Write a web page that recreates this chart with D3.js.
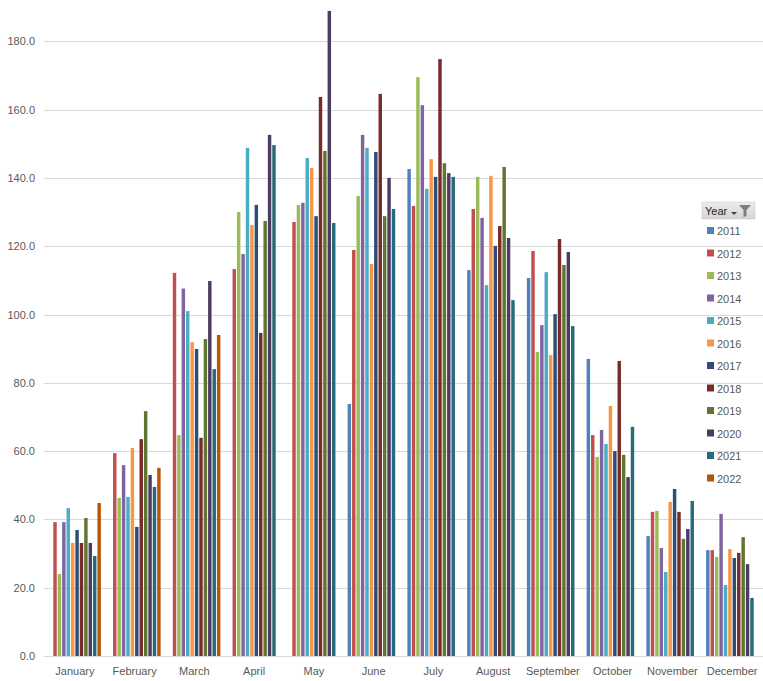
<!DOCTYPE html>
<html>
<head>
<meta charset="utf-8">
<script src="https://cdn.jsdelivr.net/npm/d3@7/dist/d3.min.js"></script>
<style>
  html, body { margin: 0; padding: 0; background: #fff; }
  svg { display: block; }
  text { font-family: "Liberation Sans", Arial, sans-serif; }
</style>
</head>
<body>
<svg id="chart" width="763" height="681"></svg>
<script>
const months = ["January","February","March","April","May","June","July","August","September","October","November","December"];
const years = ["2011","2012","2013","2014","2015","2016","2017","2018","2019","2020","2021","2022"];
const yTicks = [0,20,40,60,80,100,120,140,160,180];
const colors = ["#4F81BD","#C0504D","#9BBB59","#8064A2","#4BACC6","#F79646","#2C4D75","#772C2A","#5F7530","#4D3B62","#276A7C","#B65708"];

const s2011 = [null,null,null,null,null,73.8,142.6,113.0,110.7,87.0,35.1,31.0];
const s2012 = [39.2,59.4,112.2,113.3,127.1,118.9,131.8,130.9,118.6,64.7,42.2,31.0];
const s2013 = [24.0,46.3,64.7,130.0,132.1,134.7,169.5,140.3,89.0,58.3,42.5,29.0];
const s2014 = [39.2,55.9,107.6,117.7,132.7,152.6,161.3,128.3,96.9,66.2,31.6,41.6];
const s2015 = [43.3,46.6,101.0,148.8,145.8,148.8,136.8,108.6,112.4,62.1,24.6,20.8];
const s2016 = [33.1,60.9,91.9,126.2,142.9,114.8,145.5,140.6,88.1,73.2,45.1,31.3];
const s2017 = [36.9,37.8,89.9,132.1,128.8,147.6,140.3,120.1,100.1,60.0,48.9,28.7];
const s2018 = [33.1,63.5,63.9,94.6,163.7,164.6,174.8,125.9,122.1,86.4,42.2,30.2];
const s2019 = [40.4,71.7,92.8,127.4,147.9,128.8,144.3,143.2,114.5,58.9,34.3,34.8];
const s2020 = [33.1,53.0,109.8,152.6,188.9,140.0,141.4,122.4,118.3,52.4,37.2,26.9];
const s2021 = [29.3,49.5,84.0,149.6,126.8,130.9,140.3,104.2,96.6,67.1,45.4,17.0];
const s2022 = [44.8,55.1,94.0,null,null,null,null,null,null,null,null,null];

const series = [s2011,s2012,s2013,s2014,s2015,s2016,s2017,s2018,s2019,s2020,s2021,s2022];

const svg = d3.select("#chart");
const plotL = 45, plotR = 762, plotT = 41.3, plotB = 656;

const x0 = d3.scaleBand().domain(months).range([plotL, plotR]).paddingInner(0.13).paddingOuter(0.065);
const x1 = d3.scaleBand().domain(years).range([0, x0.bandwidth()]).paddingInner(0.22).paddingOuter(0);
const y = d3.scaleLinear().domain([0, 180]).range([plotB, plotT]);
const color = d3.scaleOrdinal().domain(years).range(colors);

// gridlines
svg.append("g").selectAll("line").data(yTicks.filter(d => d > 0)).join("line")
  .attr("x1", plotL - 1).attr("x2", 763)
  .attr("y1", d => Math.round(y(d)) + 0.5).attr("y2", d => Math.round(y(d)) + 0.5)
  .attr("stroke", "#D9D9D9").attr("stroke-width", 1);

// y labels
svg.append("g").selectAll("text").data(yTicks).join("text")
  .attr("x", 35).attr("y", d => y(d) + 4)
  .attr("text-anchor", "end")
  .attr("font-size", "11px").attr("fill", "#595959")
  .text(d => d3.format(".1f")(d));

// bars
const flat = [];
years.forEach((yr, i) => {
  series[i].forEach((v, m) => { if (v != null) flat.push({year: yr, month: months[m], value: v}); });
});
svg.append("g").selectAll("rect").data(flat).join("rect")
  .attr("x", d => x0(d.month) + x1(d.year))
  .attr("width", x1.bandwidth())
  .attr("y", d => y(d.value))
  .attr("height", d => y(0) - y(d.value))
  .attr("fill", d => color(d.year));

// x axis line
svg.append("line").attr("x1", plotL - 1).attr("x2", 763)
  .attr("y1", Math.round(y(0)) + 0.5).attr("y2", Math.round(y(0)) + 0.5)
  .attr("stroke", "#D9D9D9").attr("stroke-width", 1);

// x labels
svg.append("g").selectAll("text").data(months).join("text")
  .attr("x", d => x0(d) + x0.bandwidth() / 2)
  .attr("y", 675)
  .attr("text-anchor", "middle")
  .attr("font-size", "11px").attr("fill", "#595959")
  .text(d => d);

// legend
const lg = svg.append("g");
const btn = lg.append("g");
const grad = svg.append("defs").append("linearGradient").attr("id", "btnGrad").attr("x1", 0).attr("y1", 0).attr("x2", 0).attr("y2", 1);
grad.append("stop").attr("offset", "0%").attr("stop-color", "#ECECEC");
grad.append("stop").attr("offset", "100%").attr("stop-color", "#D4D4D4");
btn.append("rect").attr("x", 702).attr("y", 202).attr("width", 53).attr("height", 17)
  .attr("fill", "url(#btnGrad)").attr("stroke", "#C8C8C8").attr("stroke-width", 0.5);
btn.append("text").attr("x", 705).attr("y", 215).attr("font-size", "11px").attr("fill", "#262626").text("Year");
btn.append("path").attr("d", "M731,212 L737,212 L734,215 Z").attr("fill", "#404040");
btn.append("path").attr("d", "M739,205 L751,205 L746.5,210 L746.5,216 L743.5,217 L743.5,210 Z").attr("fill", "#7F7F7F");

const items = lg.selectAll("g.item").data(years).join("g").attr("class", "item")
  .attr("transform", (d, i) => `translate(0, ${231 + i * 22.5})`);
items.append("rect").attr("x", 707).attr("y", -4).attr("width", 7).attr("height", 7).attr("fill", d => color(d));
items.append("text").attr("x", 717).attr("y", 4).attr("font-size", "11px").attr("fill", "#595959").text(d => d);
</script>
</body>
</html>
